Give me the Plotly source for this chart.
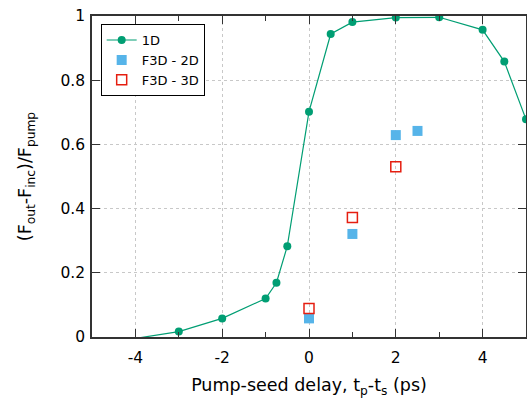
import plotly.graph_objects as go

# 1D simulation
x_1d = [-5, -3, -2, -1, -0.75, -0.5, 0, 0.5, 1, 2, 3, 4, 4.5, 5]
y_1d = [-0.026, 0.017, 0.058, 0.12, 0.169, 0.283, 0.702, 0.944, 0.981, 0.995, 0.996, 0.957, 0.858, 0.678]

# F3D - 2D
x_2d = [0, 1, 2, 2.5]
y_2d = [0.058, 0.321, 0.629, 0.642]

# F3D - 3D
x_3d = [0, 1, 2]
y_3d = [0.089, 0.372, 0.53]

x_ticks = [-4, -2, 0, 2, 4]
y_ticks = [0, 0.2, 0.4, 0.6, 0.8, 1]
y_ticklabels = ["0", "0.2", "0.4", "0.6", "0.8", "1"]

FONT = "DejaVu Sans"

fig = go.Figure()
fig.add_trace(go.Scatter(
    x=x_1d, y=y_1d, mode="lines+markers", name="1D",
    line=dict(color="#009e73", width=1.2),
    marker=dict(color="#009e73", size=8, symbol="circle"),
    cliponaxis=True,
))
fig.add_trace(go.Scatter(
    x=x_2d, y=y_2d, mode="markers", name="F3D - 2D",
    marker=dict(color="#56b4e9", size=10, symbol="square"),
))
fig.add_trace(go.Scatter(
    x=x_3d, y=y_3d, mode="markers", name="F3D - 3D",
    marker=dict(color="#e51e10", size=10, symbol="square-open", line=dict(width=1.5)),
))

axis_common = dict(
    showline=True, linecolor="#333333", linewidth=1.5, mirror="allticks",
    ticks="inside", ticklen=8, tickwidth=1, tickcolor="#333333",
    showgrid=True, gridcolor="#c8c8c8", griddash="dot", gridwidth=1,
    zeroline=False,
    tickfont=dict(family=FONT, size=15.5, color="black"),
)

fig.update_xaxes(
    range=[-5, 5], tickvals=x_ticks, ticktext=[str(v) for v in x_ticks],
    minor=dict(tickvals=[-5, -3, -1, 1, 3, 5], ticks="inside", ticklen=5, tickcolor="#333333", showgrid=False),
    title=dict(text="Pump-seed delay, t<sub>p</sub>-t<sub>s</sub> (ps)", font=dict(family=FONT, size=17.5, color="black")),
    automargin=False, ticklabelstandoff=6,
    **axis_common,
)
fig.update_yaxes(
    range=[0, 1], tickvals=y_ticks, ticktext=y_ticklabels,
    title=dict(text="(F<sub>out</sub>-F<sub>inc</sub>)/F<sub>pump</sub>", font=dict(family=FONT, size=17.5, color="black"), standoff=24),
    automargin=False, ticklabelstandoff=2,
    **axis_common,
)

fig.update_layout(
    width=527, height=398,
    margin=dict(l=92, r=1, t=16, b=61),
    plot_bgcolor="white", paper_bgcolor="white",
    font=dict(family=FONT),
    showlegend=True,
    legend=dict(
        x=0.02, y=0.975, xanchor="left", yanchor="top",
        bgcolor="white", bordercolor="black", borderwidth=1,
        font=dict(family=FONT, size=13, color="black"),
        tracegroupgap=0, itemwidth=30,
    ),
)

fig.write_html("out.html", config={"displayModeBar": False},
               post_script="document.body.style.margin='0';")
